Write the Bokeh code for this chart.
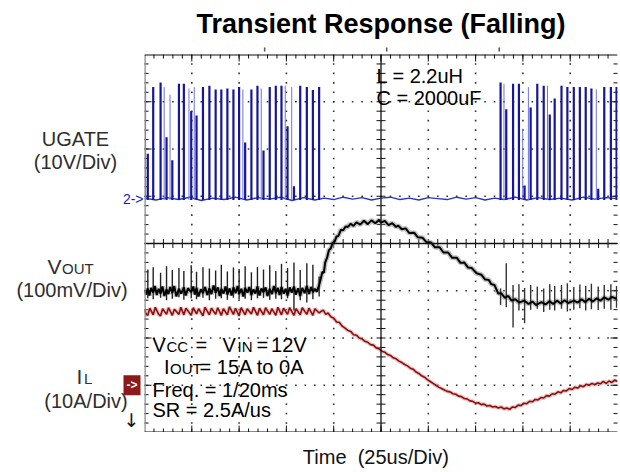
import numpy as np
from bokeh.plotting import figure
from bokeh.layouts import row, column
from bokeh.models import Range1d, Label, Span
from bokeh.embed import file_html
from bokeh.resources import INLINE

# ---------------- data (time in us, 25 us/div) ----------------
# UGATE switching pulses (volts, 10 V/div)
ug_pulse_t1 = [1.75, 4.6, 8.5, 11.65, 14.7, 18.2, 20.8, 24.7, 27.5, 30.9, 34.3, 37.6, 40.6, 43.8, 47.0,
               50.0, 53.2, 56.5, 59.7, 62.9, 66.2, 69.4, 72.4, 75.6, 79.0, 82.3, 85.8, 89.0, 92.3]
ug_pulse_v1 = [9.5, 23.6, 24.6, 13.0, 8.1, 24.3, 24.3, 18.5, 17.6, 23.6, 23.9, 23.1, 23.1, 23.3, 23.1,
               23.6, 11.9, 23.1, 23.9, 10.2, 23.6, 23.9, 23.9, 15.3, 2.6, 23.9, 23.6, 23.0, 23.6]
ug_pulse_t2 = [188.2, 191.2, 194.8, 197.9, 200.9, 204.1, 207.6, 211.0, 214.2, 216.8, 220.4, 223.5, 226.9,
               230.1, 233.2, 236.2, 239.8, 243.0, 246.5, 249.5]
ug_pulse_v2 = [24.6, 18.9, 24.3, 24.3, 2.8, 19.3, 24.3, 23.9, 17.8, 21.2, 23.9, 23.6, 23.6, 23.6, 23.6,
               23.3, 2.1, 23.6, 23.6, 23.6]
# faint companion edges beside the short pulses
ug_ghost_t = [0.6, 10.4, 13.5, 23.5, 26.3, 52.0, 61.7, 74.4, 77.8, 190.0, 199.9, 202.9, 213.0, 238.8]
ug_ghost_v = [23.6, 23.6, 22.0, 23.3, 23.6, 23.1, 23.3, 23.9, 23.6, 24.3, 14.8, 23.6, 23.9, 23.1]
ug_base_t = [0, 6, 12, 18, 24, 30, 36, 42, 48, 54, 60, 66, 72, 78, 84, 90, 95, 100, 105, 110, 115, 120,
             125, 130, 135, 140, 145, 150, 155, 160, 165, 170, 175, 180, 185, 190, 196, 202, 208, 214,
             220, 226, 232, 238, 244, 250]
ug_base_v = [0.1, -0.3, 0.2, -0.2, 0.3, -0.4, 0.1, -0.2, 0.3, -0.3, 0.2, -0.1, 0.3, -0.4, 0.2, -0.3,
             0.1, -0.2, 0.3, -0.1, 0.2, -0.3, 0.1, 0.3, -0.2, 0.1, -0.3, 0.2, 0.0, -0.2, 0.3, -0.1,
             0.2, -0.3, 0.1, -0.2, 0.3, -0.3, 0.2, -0.2, 0.1, -0.3, 0.3, -0.1, 0.2, 0.0]

# VOUT deviation (mV, 100 mV/div)
VOUT = [(0, 2), (0.8, -8), (1.75, 5), (2.6, -10), (3.5, 6), (4.6, -4), (5.5, 10), (6.5, -9), (7.5, 4),
        (8.5, -6), (9.5, 9), (10.5, -11), (11.65, 3), (12.6, -7), (13.6, 8), (14.7, -5), (15.7, 10),
        (16.8, -12), (18.2, 4), (19.4, -6), (20.8, 7), (21.8, -10), (23.0, 5), (24.7, -3), (25.8, 9),
        (26.6, -8), (27.5, 6), (28.5, -12), (29.8, 3), (30.9, -5), (32.0, 8), (33.2, -9), (34.3, 5),
        (35.4, -7), (36.5, 11), (37.6, -4), (38.8, 7), (39.7, -11), (40.6, 4), (41.8, -6), (42.8, 9),
        (43.8, -8), (45.0, 5), (46.0, -10), (47.0, 7), (48.2, -5), (49.2, 10), (50.0, -7), (51.2, 4),
        (52.2, -12), (53.2, 6), (54.4, -4), (55.4, 8), (56.5, -9), (57.6, 3), (58.6, -6), (59.7, 9),
        (60.8, -10), (61.8, 5), (62.9, -3), (64.0, 7), (65.0, -11), (66.2, 4), (67.4, -7), (68.4, 10),
        (69.4, -5), (70.5, 6), (71.4, -9), (72.4, 8), (73.6, -6), (74.6, 4), (75.6, -10), (76.8, 7),
        (77.8, -4), (79.0, 9), (80.0, -8), (81.2, 5), (82.3, -11), (83.4, 6), (84.6, -5), (85.8, 10),
        (87.0, -7), (88.0, 8), (89.0, -3), (90.0, 4), (91.1, -2),
        (92.3, 12), (93.2, 26), (94.0, 40), (94.8, 38), (95.5, 60), (96.5, 70), (97.5, 86), (98.5, 90),
        (99.5, 102), (100.5, 104), (101.5, 115), (102.5, 116), (103.8, 129), (105.0, 128), (106.3, 136),
        (107.5, 135), (109.0, 142), (110.5, 137), (112.0, 145), (114.0, 140), (116.0, 148), (118.0, 141),
        (120.0, 149), (122.0, 143), (124.0, 150), (125.0, 144), (127.0, 148), (129.0, 139), (131.0, 143),
        (133.0, 135), (134.0, 138), (136.0, 130), (138.0, 132), (140.0, 122), (142.5, 123), (144.5, 113),
        (147.0, 112), (149.0, 103), (151.5, 102), (153.5, 92), (156.0, 92), (158.0, 81), (160.5, 81),
        (162.5, 70), (165.0, 70), (167.0, 59), (169.0, 60), (171.0, 49), (173.0, 48), (175.5, 37),
        (178.0, 34), (180.0, 24), (182.0, 23), (183.3, 14), (185.0, 12), (187.0, -6), (188.5, -5),
        (190.5, -15), (192.3, -11), (194.0, -21), (196.0, -18), (198.0, -25), (200.8, -21), (203.0, -28),
        (205.0, -23), (207.0, -30), (209.8, -24), (212.0, -29), (214.0, -22), (216.0, -28), (218.0, -21),
        (220.0, -27), (222.0, -20), (224.0, -26), (227.0, -21), (229.0, -25), (231.0, -18), (233.0, -24),
        (235.0, -17), (237.0, -23), (239.0, -16), (241.0, -21), (243.0, -14), (245.2, -19), (247.0, -13),
        (249.5, -17)]
# switching spikes on VOUT (mV), one per UGATE pulse
vo_spike_up1 = [45, 50, 38, 52, 44, 48, 42, 54, 40, 50, 47, 43, 55, 41, 49, 46, 52, 39, 50, 45, 54, 42,
                57, 48, 60, 44, 58, 55, 30]
vo_spike_dn1 = [-16, -18, -15, -20, -17, -14, -19, -16, -18, -15, -20, -17, -16, -19, -15, -18, -17, -20,
                -16, -15, -19, -17, -18, -16, -42, -20, -25, -18, -12]
vo_spike_up2 = [5, 58, 12, 14, 6, 12, 9, 5, 14, 10, 12, 16, 8, 13, 10, 15, 9, 12, 14, 10]
vo_spike_dn2 = [-30, -35, -78, -42, -69, -40, -38, -45, -40, -42, -38, -44, -40, -37, -42, -39, -41, -38,
                -40, -36]

# Inductor current (A, 10 A/div)
IL = [(0, 15.9), (1.0, 15.0), (1.75, 14.8), (2.8, 16.3), (4.6, 14.9), (5.7, 16.5), (7.5, 15.0), (8.5, 14.7),
      (9.6, 16.2), (11.65, 15.0), (12.7, 16.4), (14.7, 14.8), (15.8, 16.1), (18.2, 15.0), (19.2, 16.5),
      (20.8, 14.9), (21.9, 16.3), (24.7, 14.8), (25.8, 16.4), (27.5, 15.1), (28.6, 16.2), (30.9, 14.7),
      (32.0, 16.5), (34.3, 14.9), (35.4, 16.3), (37.6, 15.0), (38.7, 16.4), (40.6, 14.8), (41.7, 16.2),
      (43.8, 14.9), (44.9, 16.6), (47.0, 15.0), (48.1, 16.3), (50.0, 14.7), (51.1, 16.4), (53.2, 14.9),
      (54.3, 16.2), (56.5, 15.1), (57.6, 16.5), (59.7, 14.8), (60.8, 16.3), (62.9, 14.9), (64.0, 16.4),
      (66.2, 15.0), (67.3, 16.2), (69.4, 14.8), (70.5, 16.5), (72.4, 14.9), (73.5, 16.3), (75.6, 15.0),
      (76.7, 16.4), (79.0, 14.8), (80.1, 16.2), (82.3, 14.9), (83.4, 16.4), (85.8, 15.0), (86.9, 16.3),
      (89.0, 14.8), (90.1, 16.2), (92.3, 15.3),
      (93.2, 15.6), (94.5, 15.9), (95.8, 15.0), (97.0, 15.3), (98.5, 14.5), (100.1, 14.2), (101.5, 13.4),
      (103.0, 13.3), (104.5, 12.5), (106.0, 12.1), (107.5, 11.6), (109.0, 11.4), (110.5, 10.7),
      (112.0, 10.6), (113.5, 10.0), (115.0, 9.8), (116.5, 9.3), (118.0, 9.1), (119.5, 8.6), (121.0, 8.5),
      (122.5, 7.9), (124.0, 7.7), (125.5, 7.2), (127.0, 7.0), (128.5, 6.5), (130.0, 6.3), (131.5, 5.8),
      (133.0, 5.6), (134.5, 5.1), (136.0, 4.8), (137.5, 4.4), (139.0, 4.1), (140.5, 3.6), (142.0, 3.4),
      (143.5, 2.8), (145.0, 2.5), (146.5, 2.0), (148.0, 1.7), (149.5, 1.2), (151.0, 0.8), (152.5, 0.4),
      (154.0, 0.0), (155.5, -0.4), (157.0, -0.7), (158.5, -1.0), (160.0, -1.3), (161.5, -1.4),
      (163.0, -1.8), (164.5, -1.9), (166.0, -2.3), (167.5, -2.4), (169.0, -2.8), (170.5, -2.9),
      (172.0, -3.3), (173.5, -3.4), (175.0, -3.8), (176.5, -3.7), (178.0, -4.1), (179.5, -4.0),
      (181.0, -4.4), (182.5, -4.3), (184.0, -4.6), (185.5, -4.5), (187.0, -4.8), (188.5, -4.6),
      (190.0, -5.0), (191.5, -4.8), (193.0, -5.1), (194.5, -4.6), (196.0, -4.7), (197.5, -4.2),
      (199.0, -4.3), (200.5, -3.8), (202.0, -3.9), (203.5, -3.4), (205.0, -3.5), (206.5, -3.0),
      (208.0, -3.1), (209.5, -2.6), (211.0, -2.7), (212.5, -2.2), (214.0, -2.3), (215.5, -1.8),
      (217.0, -1.9), (218.5, -1.4), (220.0, -1.6), (221.5, -1.1), (223.0, -1.2), (224.5, -0.7),
      (226.0, -0.9), (227.5, -0.4), (229.0, -0.6), (230.5, -0.1), (232.0, -0.3), (233.5, 0.2),
      (235.0, 0.0), (236.5, 0.4), (238.0, 0.1), (239.5, 0.5), (241.0, 0.3), (242.5, 0.8), (244.0, 0.4),
      (245.5, 0.9), (247.0, 0.6), (248.5, 1.1), (250.0, 0.8)]

# scope screen: 10 x 8 divisions
X_DIVS = [25, 50, 75, 100, 125, 150, 175, 200, 225]
Y_DIVS = [-3, -2, -1, 0, 1, 2, 3]
# small marker ticks above the screen (time, us)
TOP_MARKS = [63.5, 128.0, 187.5]

FONT = "Liberation Sans"
CH_RANGES = {"ug": (-49.5, 30.5), "vo": (-300, 500), "il": (-10, 70)}
BASE_FIX = 0.35   # em: lift so that the glyph baseline sits on the given y


def bare(fig):
    fig.grid.visible = False
    fig.outline_line_color = None
    return fig


def lab(fig, x, y, text, size="20px", color="#000000", align="left", baseline="alphabetic", xo=0,
        bold=False, font=FONT, **kw):
    yo = BASE_FIX * float(size[:-2]) if baseline == "alphabetic" else 0
    fig.add_layout(Label(x=x, y=y, text=text, x_offset=xo, y_offset=yo, text_font=font, text_font_size=size,
                         text_color=color, text_align=align, text_baseline=baseline,
                         text_font_style="bold" if bold else "normal", **kw))


# ---------------- main scope screen ----------------
p = bare(figure(width=476, height=378, output_backend="svg", toolbar_location=None, title=None,
                x_range=Range1d(0, 250), y_range=Range1d(-4, 4),
                x_axis_location=None, y_axis_location=None,
                min_border_left=0, min_border_right=3, min_border_top=0, min_border_bottom=0))
p.extra_y_ranges = {k: Range1d(*v) for k, v in CH_RANGES.items()}

# dotted graticule
xs_minor = np.arange(5, 250, 5)
ys_minor = np.round(np.arange(-3.8, 3.81, 0.2), 2)
dx, dy = [], []
for gx in X_DIVS:
    if gx == 125:
        continue
    dx += [gx] * len(ys_minor)
    dy += list(ys_minor)
for gy in Y_DIVS:
    if gy == 0:
        continue
    dx += list(xs_minor)
    dy += [gy] * len(xs_minor)
p.scatter(dx, dy, marker="square", size=1.6, fill_color="#333333", line_color=None)

# centre cross
p.add_layout(Span(location=0, dimension="width", line_color="#111111", line_width=1.3))
p.add_layout(Span(location=125, dimension="height", line_color="#111111", line_width=1.3))
p.scatter(xs_minor, [0] * len(xs_minor), marker="dash", angle=np.pi / 2, size=9, line_color="#111111", line_width=1)
p.scatter([125] * len(ys_minor), ys_minor, marker="dash", size=9, line_color="#111111", line_width=1)

# border ticks (half clipped by the frame)
for yb in (4, -4):
    p.scatter(xs_minor, [yb] * len(xs_minor), marker="dash", angle=np.pi / 2, size=8, line_color="#111111")
    p.scatter(X_DIVS, [yb] * len(X_DIVS), marker="dash", angle=np.pi / 2, size=14, line_color="#111111")
for xb in (0, 250):
    p.scatter([xb] * len(ys_minor), ys_minor, marker="dash", size=8, line_color="#111111")
    p.scatter([xb] * len(Y_DIVS), Y_DIVS, marker="dash", size=14, line_color="#111111")
p.add_layout(Span(location=0, dimension="height", line_color="#8a8a8a", line_width=2.5))
p.add_layout(Span(location=4, dimension="width", line_color="#111111", line_width=2))
p.add_layout(Span(location=-4, dimension="width", line_color="#111111", line_width=2))

# IL trace
il_t = [a for a, b in IL]
il_a = [b for a, b in IL]
p.line(il_t, il_a, y_range_name="il", line_color="#d9a0a0", line_width=4, line_alpha=0.6)
p.line(il_t, il_a, y_range_name="il", line_color="#8b1010", line_width=1.6)

# VOUT trace
vo_t = [a for a, b in VOUT]
vo_v = [b for a, b in VOUT]
p.line(vo_t, vo_v, y_range_name="vo", line_color="#9a9a9a", line_width=5, line_alpha=0.6)
p.segment(ug_pulse_t1, vo_spike_dn1, ug_pulse_t1, vo_spike_up1, y_range_name="vo", line_color="#222222", line_width=1.4)
p.segment(ug_pulse_t2, vo_spike_dn2, ug_pulse_t2, vo_spike_up2, y_range_name="vo", line_color="#333333", line_width=1.4)
p.line(vo_t, vo_v, y_range_name="vo", line_color="#000000", line_width=2)

# UGATE trace
p.line(ug_base_t, ug_base_v, y_range_name="ug", line_color="#2a35c8", line_width=1.4)
p.segment(ug_ghost_t, [-0.3] * len(ug_ghost_t), ug_ghost_t, ug_ghost_v, y_range_name="ug", line_color="#6f74d8", line_width=1)
p.segment(ug_pulse_t1, [-0.3] * len(ug_pulse_t1), ug_pulse_t1, ug_pulse_v1, y_range_name="ug", line_color="#16169a", line_width=2.2)
p.segment(ug_pulse_t2, [-0.3] * len(ug_pulse_t2), ug_pulse_t2, ug_pulse_v2, y_range_name="ug", line_color="#16169a", line_width=2.2)

# annotations inside the screen
lab(p, 122.6, 3.393, "L = 2.2uH")
lab(p, 122.6, 2.935, "C = 2000uF")
x0 = 4.24
lab(p, x0, -2.298, "V")
lab(p, x0, -2.298, "CC", size="15px", xo=14)
lab(p, x0, -2.298, "=", xo=43)
lab(p, x0, -2.298, "V", xo=70)
lab(p, x0, -2.298, "IN", size="15px", xo=85)
lab(p, x0, -2.298, "=", xo=104)
lab(p, x0, -2.298, "12V", xo=118.5)
lab(p, x0, -2.758, "I", xo=11.5)
lab(p, x0, -2.758, "OUT", size="15px", xo=17.5)
lab(p, x0, -2.758, "= 15A to 0A", xo=47)
lab(p, x0, -3.249, "Freq. = 1/20ms")
lab(p, x0, -3.672, "SR = 2.5A/us")

# ---------------- left label strip (x in px, y in divisions) ----------------
q = bare(figure(width=144, height=378, output_backend="svg", toolbar_location=None, title=None,
                x_range=Range1d(0, 144), y_range=Range1d(-4, 4),
                x_axis_location=None, y_axis_location=None, min_border=0))
q.extra_y_ranges = {k: Range1d(*v) for k, v in CH_RANGES.items()}

GREY = "#2e2e2e"
lab(q, 75, 2.074, "UGATE", color=GREY, align="center")
lab(q, 75, 1.587, "(10V/Div)", color=GREY, align="center")
lab(q, 47, -0.635, "V", size="21px", color=GREY)
lab(q, 47, -0.635, "OUT", size="15px", color=GREY, xo=14.5)
lab(q, 71.5, -1.122, "(100mV/Div)", color=GREY, align="center")
lab(q, 76, -2.963, "I", size="21px", color=GREY)
lab(q, 76, -2.963, "L", size="15px", color=GREY, xo=7.5)
lab(q, 85.5, -3.492, "(10A/Div)", color=GREY, align="center")
lab(q, 131, -3.746, "\u2193", size="19px", color="#111111", align="center", baseline="middle", font="DejaVu Sans")
lab(q, 143, 0, "2->", size="14px", color="#1a1acc", align="right", baseline="middle", y_range_name="ug")
lab(q, 140, 0, "->", size="12px", color="white", align="right", baseline="middle", bold=True,
    y_range_name="il", background_fill_color="#8b1a1a", padding=3)

# ---------------- title strip (x in us like the screen, y in px from top) ----------------
XR = (-144 * 25 / 47.3, 250 + 3 * 25 / 47.3)
top = bare(figure(width=620, height=54, output_backend="svg", toolbar_location=None, title=None,
                  x_range=Range1d(*XR), y_range=Range1d(54, 0),
                  x_axis_location=None, y_axis_location=None, min_border=0))
lab(top, 125, 33.3, "Transient Response (Falling)", size="27px", align="center", bold=True)
top.scatter(TOP_MARKS, [49] * len(TOP_MARKS), marker="dash", angle=np.pi / 2, size=4,
            line_color="#555555", line_width=1.5)

# ---------------- x-label strip ----------------
bot = bare(figure(width=620, height=40, output_backend="svg", toolbar_location=None, title=None,
                  x_range=Range1d(*XR), y_range=Range1d(40, 0),
                  x_axis_location=None, y_axis_location=None, min_border=0))
lab(bot, 83.7, 31.5, "Time\u00a0 (25us/Div)", color="#111111")

layout = column(top, row(q, p), bot)
open("out.html", "w").write(file_html(layout, INLINE))
